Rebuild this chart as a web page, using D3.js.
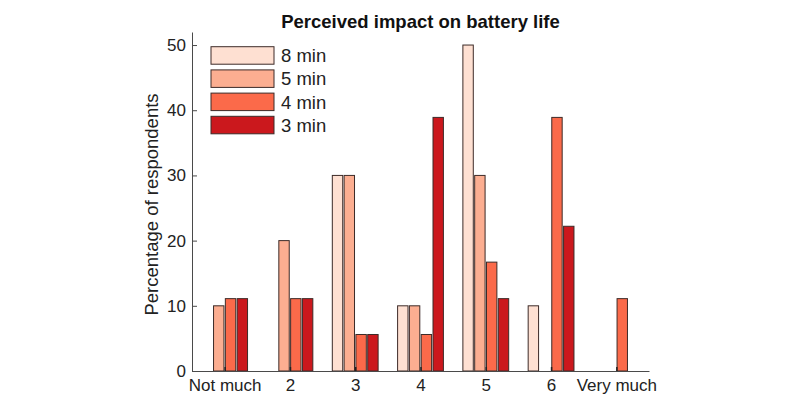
<!DOCTYPE html>
<html><head><meta charset="utf-8">
<script src="https://cdn.jsdelivr.net/npm/d3@7"></script>
<style>body{margin:0;background:#fff;} text{font-family:"Liberation Sans",Arial,sans-serif;}</style>
</head><body>
<svg id="c" width="800" height="413"></svg>
<script>
const categories = ["Not much","2","3","4","5","6","Very much"];
const seriesNames = ["8 min","5 min","4 min","3 min"];
const min8 = [0, 0, 30, 10, 50, 10, 0];
const min5 = [10, 20, 30, 10, 30, 0, 0];
const min4 = [11.1, 11.1, 5.6, 5.6, 16.7, 38.9, 11.1];
const min3 = [11.1, 11.1, 5.6, 38.9, 11.1, 22.2, 0];
const yTicks = [0,10,20,30,40,50];
const colors = ["#fee0d2","#fcae91","#fb6a4a","#cb181d"];
const title = "Perceived impact on battery life";
const yLabel = "Percentage of respondents";

const series = [min8, min5, min4, min3];
const svg = d3.select("#c");
const L = 192, R = 649, T = 32, B = 371;
const x = d3.scaleLinear().domain([0.5, 7.5]).range([L, R]);
const y = d3.scaleLinear().domain([0, 52]).range([B, T]);
const step = 11.8, bw = 10.4;
const axisCol = "#4a4a4a";

// bars
series.forEach((vals, si) => {
  svg.append("g").selectAll("rect").data(vals).join("rect")
    .attr("x", (d,i) => x(i+1) + (si - 1.5)*step - bw/2)
    .attr("width", bw)
    .attr("y", d => y(d))
    .attr("height", d => B - y(d))
    .attr("fill", colors[si])
    .attr("stroke", d => d > 0 ? "#3d2b28" : "none")
    .attr("stroke-width", 1);
});

// axes
const gx = svg.append("g").attr("transform", `translate(0,${B})`)
  .call(d3.axisBottom(x).tickValues(d3.range(1,8)).tickFormat((d)=>categories[d-1]).tickSizeInner(-4).tickSizeOuter(0).tickPadding(8));
gx.select(".domain").attr("stroke", axisCol);
gx.selectAll(".tick line").attr("stroke", "#222").attr("stroke-width", 1.5);
gx.selectAll("text").attr("font-size", 17).attr("fill", "#222");

const gy = svg.append("g").attr("transform", `translate(${L},0)`)
  .call(d3.axisLeft(y).tickValues(yTicks).tickSizeInner(-5).tickSizeOuter(0).tickPadding(6));
gy.select(".domain").attr("stroke", axisCol);
gy.selectAll(".tick line").attr("stroke", axisCol);
gy.selectAll("text").attr("font-size", 17).attr("fill", "#222");

// title
svg.append("text").attr("x", (L+R)/2).attr("y", 28).attr("text-anchor","middle")
  .attr("font-size", 18.5).attr("font-weight","bold").attr("fill","#111").text(title);

// y label
svg.append("text").attr("transform", `translate(158,${(T+B)/2+3}) rotate(-90)`)
  .attr("text-anchor","middle").attr("font-size", 18.5).attr("fill","#222").text(yLabel);

// legend
const lg = svg.append("g");
seriesNames.forEach((n, i) => {
  const top = 46.7 + i*23.2;
  lg.append("rect").attr("x", 211).attr("y", top).attr("width", 63).attr("height", 17.5)
    .attr("fill", colors[i]).attr("stroke", "#3d2b28").attr("stroke-width", 1);
  lg.append("text").attr("x", 281).attr("y", top + 15.5).attr("font-size", 18.5).attr("fill","#222").text(n);
});
</script>
</body></html>
